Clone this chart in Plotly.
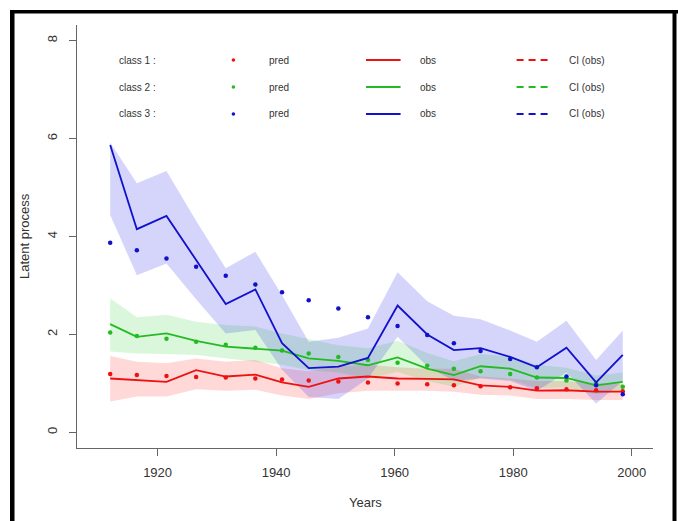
import plotly.graph_objects as go

# Time grid (years) shared by all classes
years = [1912, 1916.5, 1921.5, 1926.5, 1931.5, 1936.5, 1941, 1945.5, 1950.5,
         1955.5, 1960.5, 1965.5, 1970, 1974.5, 1979.5, 1984, 1989, 1994, 1998.5]

# Class 1
pred1 = [1.19, 1.17, 1.15, 1.13, 1.12, 1.10, 1.08, 1.06, 1.04, 1.02, 1.00, 0.98,
         0.96, 0.94, 0.92, 0.90, 0.88, 0.86, 0.84]
obs1 = [1.10, 1.07, 1.03, 1.27, 1.14, 1.18, 1.02, 0.93, 1.10, 1.14, 1.10, 1.09,
        1.08, 0.96, 0.93, 0.85, 0.86, 0.83, 0.83]
up1 = [1.56, 1.44, 1.41, 1.51, 1.44, 1.48, 1.31, 1.25, 1.35, 1.38, 1.33, 1.30,
       1.30, 1.14, 1.10, 1.05, 1.05, 1.00, 0.99]
lo1 = [0.63, 0.73, 0.73, 0.88, 0.85, 0.87, 0.75, 0.68, 0.80, 0.85, 0.85, 0.85,
       0.83, 0.77, 0.75, 0.68, 0.68, 0.66, 0.66]

# Class 2
pred2 = [2.04, 1.97, 1.91, 1.85, 1.79, 1.73, 1.67, 1.61, 1.54, 1.48, 1.42, 1.36,
         1.30, 1.25, 1.19, 1.12, 1.06, 1.00, 0.93]
obs2 = [2.21, 1.95, 2.02, 1.87, 1.75, 1.70, 1.67, 1.51, 1.46, 1.37, 1.53, 1.30,
        1.17, 1.35, 1.30, 1.12, 1.11, 0.96, 1.03]
up2 = [2.74, 2.35, 2.40, 2.26, 2.19, 2.16, 2.02, 1.90, 1.78, 1.72, 1.87, 1.62,
       1.45, 1.60, 1.55, 1.38, 1.32, 1.16, 1.22]
lo2 = [1.65, 1.61, 1.60, 1.58, 1.51, 1.44, 1.38, 1.27, 1.22, 1.10, 1.23, 1.05,
       0.93, 1.12, 1.08, 0.90, 0.92, 0.78, 0.85]

# Class 3
pred3 = [3.87, 3.72, 3.55, 3.38, 3.20, 3.02, 2.86, 2.70, 2.53, 2.35, 2.17, 1.99,
         1.82, 1.66, 1.50, 1.33, 1.14, 0.96, 0.78]
obs3 = [5.87, 4.15, 4.42, 3.52, 2.62, 2.92, 1.82, 1.31, 1.34, 1.52, 2.59, 2.00,
        1.68, 1.72, 1.54, 1.33, 1.73, 1.02, 1.58]
up3 = [5.92, 5.09, 5.34, 4.32, 3.35, 3.69, 2.80, 1.85, 1.93, 2.12, 3.27, 2.68,
       2.38, 2.31, 2.08, 1.85, 2.28, 1.48, 2.08]
lo3 = [4.44, 3.21, 3.45, 2.72, 2.02, 2.09, 1.28, 0.72, 0.68, 1.10, 1.95, 1.35,
       1.05, 1.10, 1.05, 0.85, 1.22, 0.59, 1.05]

class_labels = ["class 1 :", "class 2 :", "class 3 :"]
y_ticks = [0, 2, 4, 6, 8]
x_ticks = [1920, 1940, 1960, 1980, 2000]

line_cols = ["#ee1111", "#22bb22", "#1111cc"]
band_cols = ["rgba(255,40,40,0.18)", "rgba(40,210,40,0.17)", "rgba(30,30,235,0.19)"]

W, H = 678, 521
ML, MR, MT, MB = 77, 25, 25, 73
PW, PH = W - ML - MR, H - MT - MB


def px(x):
    return (x - ML) / PW


def py(y):
    return (H - MB - y) / PH


fig = go.Figure()
series = [(pred1, obs1, up1, lo1), (pred2, obs2, up2, lo2), (pred3, obs3, up3, lo3)]

for (pr, ob, up, lo), lc, bc in zip(series, line_cols, band_cols):
    fig.add_trace(go.Scatter(
        x=years + years[::-1], y=up + lo[::-1], fill="toself", fillcolor=bc,
        line=dict(width=0), mode="lines", hoverinfo="skip", showlegend=False))

for (pr, ob, up, lo), lc in zip(series, line_cols):
    fig.add_trace(go.Scatter(x=years, y=ob, mode="lines",
                             line=dict(color=lc, width=1.8), showlegend=False))
    fig.add_trace(go.Scatter(x=years, y=pr, mode="markers",
                             marker=dict(color=lc, size=4.5), showlegend=False))

# Legend block drawn inside the plotting region
shapes = []
annotations = []
row_y = [60, 87, 114]
font_leg = dict(family="Liberation Sans, Arial, sans-serif", size=10, color="#333")
for lab, lc, ry in zip(class_labels, line_cols, row_y):
    yy = py(ry)
    annotations.append(dict(xref="paper", yref="paper", x=px(116.5), y=yy, text=lab,
                            showarrow=False, xanchor="left", yanchor="middle", font=font_leg))
    shapes.append(dict(type="circle", xref="paper", yref="paper",
                       x0=px(231.6), x1=px(235.2), y0=py(ry + 1.8), y1=py(ry - 1.8),
                       fillcolor=lc, line=dict(width=0)))
    annotations.append(dict(xref="paper", yref="paper", x=px(266.8), y=yy, text="pred",
                            showarrow=False, xanchor="left", yanchor="middle", font=font_leg))
    shapes.append(dict(type="line", xref="paper", yref="paper",
                       x0=px(366), x1=px(400.6), y0=yy, y1=yy,
                       line=dict(color=lc, width=1.8)))
    annotations.append(dict(xref="paper", yref="paper", x=px(417.6), y=yy, text="obs",
                            showarrow=False, xanchor="left", yanchor="middle", font=font_leg))
    shapes.append(dict(type="line", xref="paper", yref="paper",
                       x0=px(516.6), x1=px(549.9), y0=yy, y1=yy,
                       line=dict(color=lc, width=1.8, dash="7px,5px")))
    annotations.append(dict(xref="paper", yref="paper", x=px(567.2), y=yy, text="CI (obs)",
                            showarrow=False, xanchor="left", yanchor="middle", font=font_leg))

# Axis titles
font_ax = dict(family="Liberation Sans, Arial, sans-serif", size=13, color="#333")
annotations.append(dict(xref="paper", yref="paper", x=px(365), y=py(502), text="Years",
                        showarrow=False, xanchor="center", yanchor="middle", font=font_ax))
annotations.append(dict(xref="paper", yref="paper", x=px(24), y=py(236), text="Latent process",
                        showarrow=False, xanchor="center", yanchor="middle", textangle=-90,
                        font=font_ax))

# Black frame around the figure
for x0, x1, y0, y1 in [(10, 678, 10, 13.5), (10, 14.5, 10, 521), (672.5, 676.5, 10, 521)]:
    shapes.append(dict(type="rect", xref="paper", yref="paper",
                       x0=px(x0), x1=px(x1), y0=py(y1), y1=py(y0),
                       fillcolor="black", line=dict(width=0), layer="above"))

axis_common = dict(showgrid=False, zeroline=False, showline=True, linecolor="#666",
                   linewidth=1, ticks="outside", ticklen=7, tickcolor="#666",
                   tickfont=dict(family="Liberation Sans, Arial, sans-serif", size=13,
                                 color="#333"))

fig.update_layout(
    width=W, height=H, margin=dict(l=ML, r=MR, t=MT, b=MB, pad=0),
    plot_bgcolor="white", paper_bgcolor="white",
    xaxis=dict(range=[1906.4, 2003.6], tickvals=x_ticks, ticklabelstandoff=5,
               **axis_common),
    yaxis=dict(range=[-0.32, 8.32], tickvals=y_ticks, tickangle=-90,
               ticklabelstandoff=7, **axis_common),
    shapes=shapes, annotations=annotations, showlegend=False,
)

fig.write_html("out.html")
